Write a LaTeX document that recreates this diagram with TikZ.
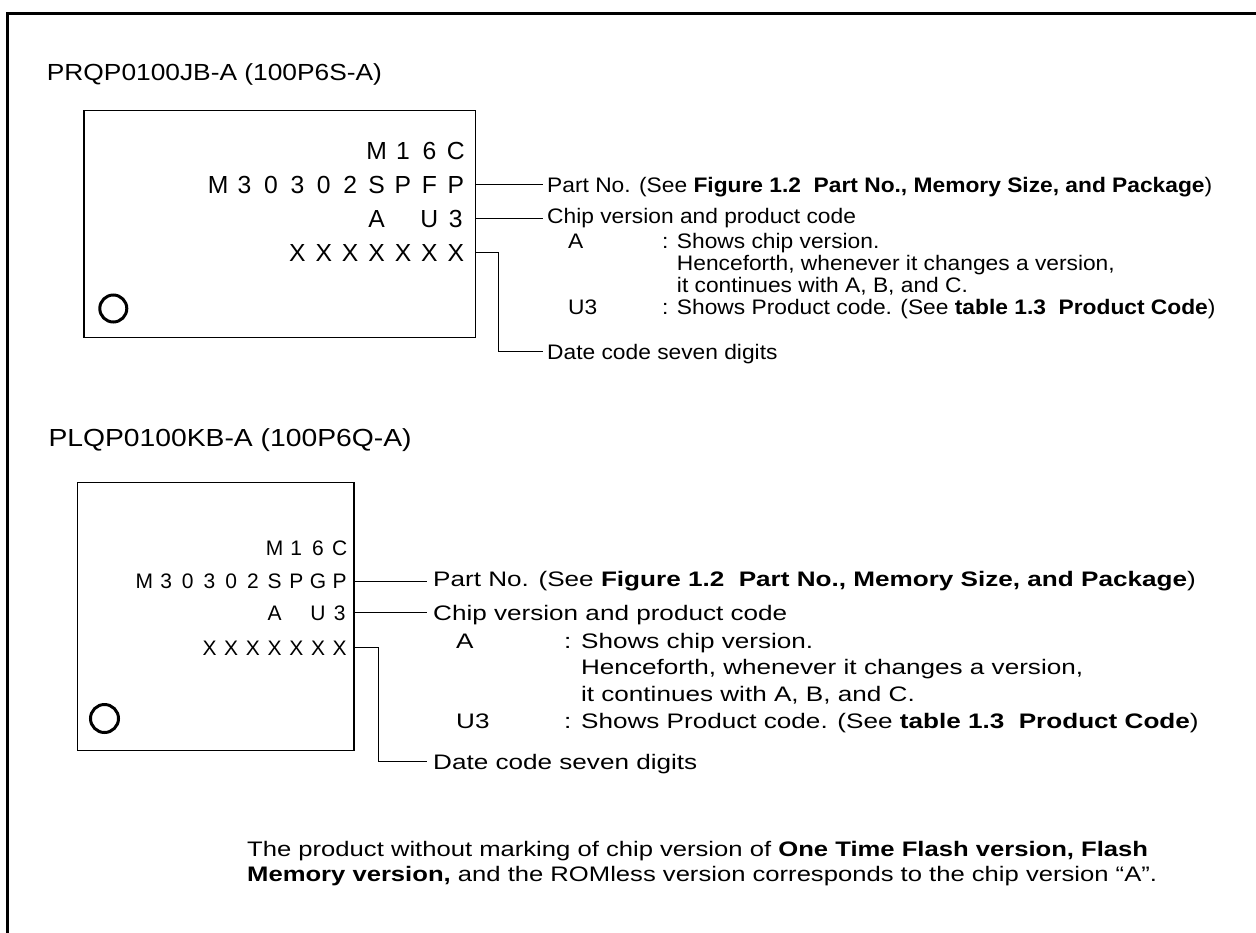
\documentclass[tikz,border=0pt]{standalone}
\usepackage{fontspec}
\setmainfont{Liberation Sans}
\usepackage{graphicx}
\begin{document}
\newcommand\ca[1]{\makebox[26.4pt][c]{#1}}
\newcommand\cb[1]{\makebox[21.7pt][c]{#1}}
\newcommand\sxa[1]{\scalebox{1.084}[1]{#1}}
\newcommand\sxb[1]{\scalebox{1.243}[1]{#1}}
\tikzset{
  frameline/.style={line width=3pt},
  chipbox/.style={draw, line width=1.3pt, inner sep=0pt, anchor=north west},
  pinmark/.style={circle, draw, line width=3pt, inner sep=0pt},
  conn/.style={line width=1.1pt},
  txt/.style={inner sep=0pt, anchor=base west},
  rowtxt/.style={inner sep=0pt, anchor=base east},
  titleA/.style={txt, font=\fontsize{23.3}{28}\selectfont},
  titleB/.style={txt, font=\fontsize{24.7}{29}\selectfont},
  rowA/.style={rowtxt, font=\fontsize{24.7}{29}\selectfont},
  rowB/.style={rowtxt, font=\fontsize{21}{25}\selectfont},
  lblA/.style={txt, font=\fontsize{21}{25}\selectfont},
  lblB/.style={txt, font=\fontsize{21}{25}\selectfont},
  note/.style={txt, font=\fontsize{21}{25}\selectfont},
}
\begin{tikzpicture}[x=1pt,y=-1pt]
\useasboundingbox (0,0) rectangle (1256,932);
\fill[white] (0,0) rectangle (1256,932);
\draw[frameline] (7.5,940) -- (7.5,13.5) -- (1262,13.5);

% ---------- upper package ----------
\node[titleA] (t1) at (46.7,80) {\scalebox{1.13}[1]{PRQP0100JB-A (100P6S-A)}};
\node[chipbox, minimum width=391.7pt, minimum height=227pt] (box1) at (83.3,110) {};
\node[pinmark, minimum size=27pt] (o1) at (113.3,308.5) {};
\node[rowA] (r11) at (469.2,159.3) {\ca{M}\ca{1}\ca{6}\ca{C}};
\node[rowA] (r12) at (469.2,193.3) {\ca{M}\ca{3}\ca{0}\ca{3}\ca{0}\ca{2}\ca{S}\ca{P}\ca{F}\ca{P}};
\node[rowA] (r13) at (469.2,227) {\ca{A}\ca{}\ca{U}\ca{3}};
\node[rowA] (r14) at (469.2,261) {\ca{X}\ca{X}\ca{X}\ca{X}\ca{X}\ca{X}\ca{X}};

\node[lblA] (p1) at (547,192) {\sxa{Part No. (See \textbf{Figure 1.2\ \ Part No., Memory Size, and Package})}};
\node[lblA] (c1) at (547,223.3) {\sxa{Chip version and product code}};
\node[lblA] (a1) at (568,248.5) {\sxa{A}};
\node[lblA] (s1) at (662,248.5) {\sxa{: Shows chip version.}};
\node[lblA] (h1) at (662,270.5) {\sxa{\phantom{: }Henceforth, whenever it changes a version,}};
\node[lblA] (i1) at (662,292.5) {\sxa{\phantom{: }it continues with A, B, and C.}};
\node[lblA] (u1) at (568,314.5) {\sxa{U3}};
\node[lblA] (q1) at (662,314.5) {\sxa{: Shows Product code. (See \textbf{table 1.3\ \ Product Code})}};
\node[lblA] (d1) at (547,359.5) {\sxa{Date code seven digits}};
\coordinate (k1) at (498.3,351.7);

\draw[conn] (box1.east |- r12) -- ([xshift=-4pt]p1.west |- r12);
\draw[conn] (box1.east |- r13) -- ([xshift=-4pt]c1.west |- r13);
\draw[conn] (box1.east |- r14) -| (k1) -- ([xshift=-4pt]d1.west |- k1);

% ---------- lower package ----------
\node[titleB] (t2) at (48.3,446) {\scalebox{1.145}[1]{PLQP0100KB-A (100P6Q-A)}};
\node[chipbox, minimum width=276.6pt, minimum height=268.3pt] (box2) at (76.7,481.7) {};
\node[pinmark, minimum size=28pt] (o2) at (104.5,718.5) {};
\node[rowB] (r21) at (350.8,555) {\cb{M}\cb{1}\cb{6}\cb{C}};
\node[rowB] (r22) at (350.8,588.3) {\cb{M}\cb{3}\cb{0}\cb{3}\cb{0}\cb{2}\cb{S}\cb{P}\cb{G}\cb{P}};
\node[rowB] (r23) at (350.8,620) {\cb{A}\cb{}\cb{U}\cb{3}};
\node[rowB] (r24) at (350.8,655) {\cb{X}\cb{X}\cb{X}\cb{X}\cb{X}\cb{X}\cb{X}};

\node[lblB] (p2) at (433,586) {\sxb{Part No. (See \textbf{Figure 1.2\ \ Part No., Memory Size, and Package})}};
\node[lblB] (c2) at (433,620.5) {\sxb{Chip version and product code}};
\node[lblB] (a2) at (456,648) {\sxb{A}};
\node[lblB] (s2) at (564,648) {\sxb{: Shows chip version.}};
\node[lblB] (h2) at (564,674.7) {\sxb{\phantom{: }Henceforth, whenever it changes a version,}};
\node[lblB] (i2) at (564,701.3) {\sxb{\phantom{: }it continues with A, B, and C.}};
\node[lblB] (u2) at (456,728) {\sxb{U3}};
\node[lblB] (q2) at (564,728) {\sxb{: Shows Product code. (See \textbf{table 1.3\ \ Product Code})}};
\node[lblB] (d2) at (433,769.5) {\sxb{Date code seven digits}};
\coordinate (k2) at (378.3,761.7);

\draw[conn] (box2.east |- r22) -- ([xshift=-6pt]p2.west |- r22);
\draw[conn] (box2.east |- r23) -- ([xshift=-6pt]c2.west |- r23);
\draw[conn] (box2.east |- r24) -| (k2) -- ([xshift=-6pt]d2.west |- k2);

% ---------- note ----------
\node[note] (n1) at (247,856) {\scalebox{1.22}[1]{The product without marking of chip version of \textbf{One Time Flash version, Flash}}};
\node[note] (n2) at (247,881) {\scalebox{1.22}[1]{\textbf{Memory version,} and the ROMless version corresponds to the chip version “A”.}};
\end{tikzpicture}
\end{document}
